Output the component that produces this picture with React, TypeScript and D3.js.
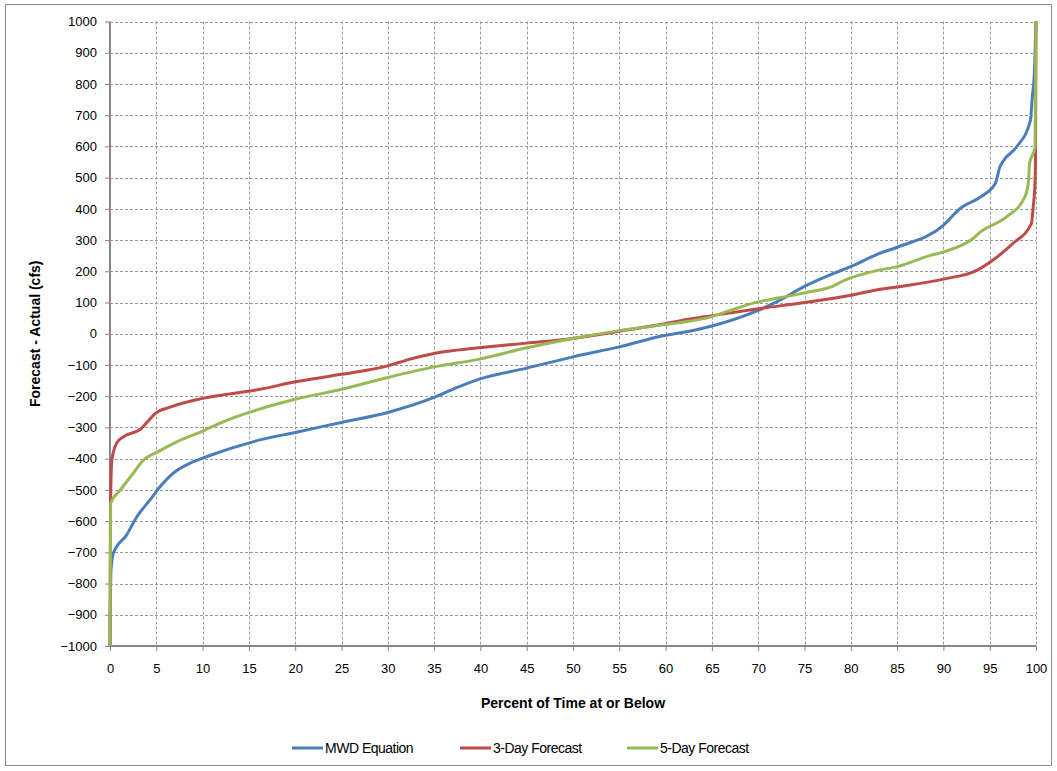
import { useEffect, useRef } from 'react';
import * as d3 from 'd3';

// [percent of time, forecast - actual]
const mwdEquation: [number, number][] = [
  [0, -1000], [0.1, -760], [0.36, -703], [1.8, -644], [2.9, -586], [4.3, -533],
  [5.4, -490], [6.8, -447], [8.6, -415], [10.4, -394], [16.2, -340], [20, -316],
  [25, -284], [30, -252], [35, -204], [37.5, -172], [39.8, -146], [45, -110],
  [50, -74], [55, -42], [60, -5], [61.6, 3], [65, 25], [70, 75], [72.3, 107],
  [75, 152], [77.7, 188], [80, 215], [82.9, 255], [85, 277], [90, 347], [91.8, 401],
  [94, 438], [95.6, 481], [96.1, 534], [96.5, 555], [97.9, 598], [99.4, 683],
  [99.5, 715], [99.6, 758], [99.8, 822], [100, 1000],
];
const threeDay: [number, number][] = [
  [0, -1000], [0.05, -555], [0.2, -405], [0.72, -350], [1.4, -331], [3.4, -303],
  [4.2, -277], [4.9, -255], [6.5, -235], [10, -207], [16.2, -178], [20, -154],
  [25, -130], [30, -103], [32.3, -82], [35, -63], [39.8, -45], [45, -30],
  [50, -15], [55, 8], [60, 33], [61.6, 42], [65, 58], [70, 80], [75, 100], [80, 123],
  [82.9, 141], [85, 150], [90, 175], [93.6, 203], [95.4, 237], [97.5, 289],
  [99.5, 353], [99.7, 406], [99.9, 491], [99.95, 577], [100, 1000],
];
const fiveDay: [number, number][] = [
  [0, -1000], [0.07, -543], [1.1, -501], [2.5, -447], [3.6, -405], [5.1, -379],
  [7.2, -346], [10, -312], [12.2, -282], [16.2, -241], [20, -210], [25, -178],
  [30, -140], [35, -106], [39.8, -82], [45, -45], [50, -15], [55, 10], [60, 30],
  [61.6, 36], [65, 55], [67, 75], [70, 102], [72.3, 115], [75, 131], [78, 152],
  [79.3, 171], [82.9, 203], [85, 215], [88.6, 251], [90, 262], [93.2, 305],
  [94, 326], [96.8, 374], [98.8, 438], [99.2, 491], [99.3, 545], [99.9, 598],
  [100, 1000],
];

const seriesNames = ['MWD Equation', '3-Day Forecast', '5-Day Forecast'];
const seriesColors = ['#4A7EBB', '#BE4B48', '#98B954'];
const xTicks = d3.range(0, 101, 5);
const yTicks = d3.range(-1000, 1001, 100);

export default function App() {
  const svgRef = useRef<SVGSVGElement>(null);

  useEffect(() => {
    const svg = d3.select(svgRef.current);
    svg.selectAll('*').remove();

    const left = 110, right = 1036, top = 21.5, bottom = 646;

    svg.append('rect')
      .attr('x', 5.5).attr('y', 4.5)
      .attr('width', 1046).attr('height', 761)
      .attr('fill', 'white').attr('stroke', '#8c8c8c');

    const x = d3.scaleLinear().domain([0, 100]).range([left, right]);
    const y = d3.scaleLinear().domain([-1000, 1000]).range([bottom, top]);

    // Grid
    const grid = svg.append('g')
      .attr('stroke', '#9a9a9a')
      .attr('stroke-dasharray', '3,2')
      .attr('stroke-width', 1);
    grid.selectAll('line.h')
      .data(yTicks.filter(d => d > -1000))
      .join('line')
      .attr('x1', left).attr('x2', right)
      .attr('y1', d => Math.round(y(d)) + 0.5).attr('y2', d => Math.round(y(d)) + 0.5);
    grid.selectAll('line.v')
      .data(xTicks.filter(d => d > 0))
      .join('line')
      .attr('x1', d => Math.round(x(d)) + 0.5).attr('x2', d => Math.round(x(d)) + 0.5)
      .attr('y1', top).attr('y2', bottom);

    // Axes
    const yAxis = svg.append('g')
      .attr('transform', `translate(${left},0)`)
      .call(d3.axisLeft(y).tickValues(yTicks).tickSize(5).tickPadding(8).tickFormat(d3.format('d')));
    const xAxis = svg.append('g')
      .attr('transform', `translate(0,${bottom})`)
      .call(d3.axisBottom(x).tickValues(xTicks).tickSize(5).tickPadding(13).tickFormat(d3.format('d')));
    [yAxis, xAxis].forEach(a => {
      a.select('.domain').attr('stroke', '#868686').attr('stroke-width', 2);
      a.selectAll('.tick line').attr('stroke', '#868686');
      a.selectAll('.tick text')
        .attr('font-family', 'Liberation Sans, Arial, sans-serif')
        .attr('font-size', 13)
        .attr('fill', '#000');
    });
    yAxis.select('.domain').attr('d', `M0,${top}V${bottom}`);
    xAxis.select('.domain').attr('d', `M${left},0H${right}`);

    // Lines
    const line = d3.line<[number, number]>()
      .x(d => x(d[0]))
      .y(d => y(d[1]))
      .curve(d3.curveMonotoneX);
    [mwdEquation, threeDay, fiveDay].forEach((data, i) => {
      svg.append('path')
        .datum(data)
        .attr('fill', 'none')
        .attr('stroke', seriesColors[i])
        .attr('stroke-width', 3)
        .attr('stroke-linejoin', 'round')
        .attr('d', line);
    });

    // Titles
    svg.append('text')
      .attr('x', (left + right) / 2).attr('y', 708)
      .attr('text-anchor', 'middle')
      .attr('font-family', 'Liberation Sans, Arial, sans-serif')
      .attr('font-size', 14).attr('font-weight', 'bold')
      .text('Percent of Time at or Below');
    svg.append('text')
      .attr('transform', `translate(40,${(top + bottom) / 2}) rotate(-90)`)
      .attr('text-anchor', 'middle')
      .attr('font-family', 'Liberation Sans, Arial, sans-serif')
      .attr('font-size', 14).attr('font-weight', 'bold')
      .text('Forecast - Actual (cfs)');

    // Legend
    const legendX = [292, 460, 627];
    const legend = svg.append('g');
    seriesNames.forEach((name, i) => {
      legend.append('line')
        .attr('x1', legendX[i]).attr('x2', legendX[i] + 31)
        .attr('y1', 748).attr('y2', 748)
        .attr('stroke', seriesColors[i]).attr('stroke-width', 3);
      legend.append('text')
        .attr('x', legendX[i] + 33).attr('y', 753)
        .attr('font-family', 'Liberation Sans, Arial, sans-serif')
        .attr('font-size', 14)
        .attr('letter-spacing', -0.5)
        .text(name);
    });
  }, []);

  return (
    <svg ref={svgRef} width={1057} height={771}
      style={{ position: 'absolute', left: 0, top: 0, background: 'white' }} />
  );
}
